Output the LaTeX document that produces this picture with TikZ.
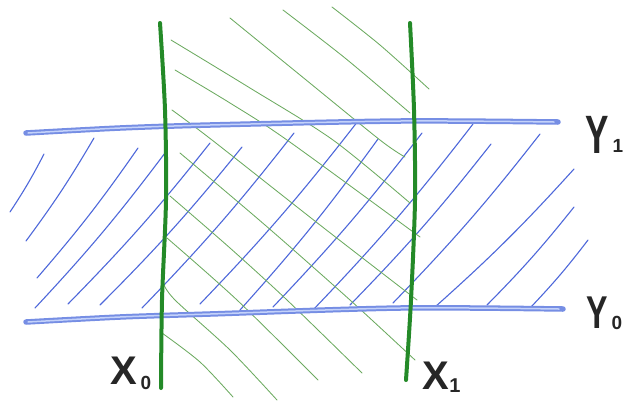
\documentclass[tikz,border=0pt]{standalone}
\usepackage{fontspec}
\setmainfont{Liberation Sans}
\definecolor{hatchblue}{RGB}{78,104,218}
\definecolor{lineblue}{RGB}{118,142,228}
\definecolor{linecore}{RGB}{196,210,250}
\definecolor{axgreen}{RGB}{36,138,40}
\definecolor{hatchgreen}{RGB}{108,170,96}
\tikzset{
  bhatch/.style={hatchblue, line width=1.1pt, line cap=round},
  ghatch/.style={hatchgreen, line width=0.85pt, line cap=round},
  youter/.style={lineblue, line width=5.5pt, line cap=round},
  yinner/.style={linecore, line width=1.5pt, line cap=round},
  xline/.style={axgreen, line width=4pt, line cap=round},
  lbl/.style={inner sep=0pt, text=black!85},
}
\begin{document}
\begin{tikzpicture}[x=1pt,y=-1pt]
\useasboundingbox (0,0) rectangle (626,400);
% blue hatching
\foreach \ax/\ay/\bx/\by in {
  10/212/44/154, 26/241/94/138, 37/278/138/148, 35/308/165/153,
  68/304/210/143, 100/305/242/147, 142/308/294/133, 200/304/358/121,
  240/310/378/139, 273/307/422/133, 312/311/473/124, 350/305/491/144,
  393/303/540/134, 435/307/574/169, 487/305/574/207, 531/307/588/240}
  \draw[bhatch] (\ax,\ay) to[bend right=3] (\bx,\by);
% green hatching
\draw[ghatch] plot[smooth] coordinates {(332,7) (380,45) (429,89)};
\draw[ghatch] plot[smooth] coordinates {(283,10) (345,58) (410,113)};
\draw[ghatch] plot[smooth] coordinates {(230,18) (300,75) (380,140) (405,157)};
\draw[ghatch] plot[smooth] coordinates {(171,40) (250,88) (333,140) (410,203)};
\draw[ghatch] plot[smooth] coordinates {(175,70) (230,103) (287,140) (420,237)};
\draw[ghatch] plot[smooth] coordinates {(172,110) (212,140) (320,225) (417,300)};
\draw[ghatch] plot[smooth] coordinates {(180,153) (265,225) (350,300) (415,360)};
\draw[ghatch] plot[smooth] coordinates {(170,196) (230,248) (287,300) (362,373)};
\draw[ghatch] plot[smooth] coordinates {(167,238) (237,300) (318,380)};
\draw[ghatch] plot[smooth] coordinates {(163,283) (175,300) (230,350) (277,400)};
\draw[ghatch] plot[smooth] coordinates {(162,333) (200,362) (233,397)};
% horizontal blue lines
\draw[youter] plot[smooth] coordinates {(26,133) (120,128) (210,125) (400,121) (558,122)};
\draw[yinner] plot[smooth] coordinates {(28,133) (120,128) (210,125) (400,121) (554,122)};
\draw[youter] plot[smooth] coordinates {(26,322) (120,317) (210,314) (400,308) (563,309)};
\draw[yinner] plot[smooth] coordinates {(28,322) (120,317) (210,314) (400,308) (559,309)};
% vertical green lines
\draw[xline] plot[smooth] coordinates {(160,23) (165,110) (166,200) (162,300) (161,388)};
\draw[xline] plot[smooth] coordinates {(410,23) (414,110) (415,200) (411,300) (406,380)};
% labels
\node[lbl, font=\bfseries\fontsize{40}{40}\selectfont] (x0) at (124,371) {X};
\node[lbl, font=\bfseries\fontsize{19}{19}\selectfont] (x0s) at (146,383) {0};
\node[lbl, font=\bfseries\fontsize{40}{40}\selectfont] (x1) at (436,376) {X};
\node[lbl, font=\bfseries\fontsize{20}{20}\selectfont] (x1s) at (455,386) {1};
\node[lbl, font=\bfseries\fontsize{54}{54}\selectfont] (y1) at (597,135) {\scalebox{0.65}[1]{Y}};
\node[lbl, font=\bfseries\fontsize{19}{19}\selectfont] (y1s) at (618,146) {1};
\node[lbl, font=\bfseries\fontsize{46}{46}\selectfont] (y0) at (597,313) {\scalebox{0.7}[1]{Y}};
\node[lbl, font=\bfseries\fontsize{19}{19}\selectfont] (y0s) at (617,323) {0};
\end{tikzpicture}
\end{document}
